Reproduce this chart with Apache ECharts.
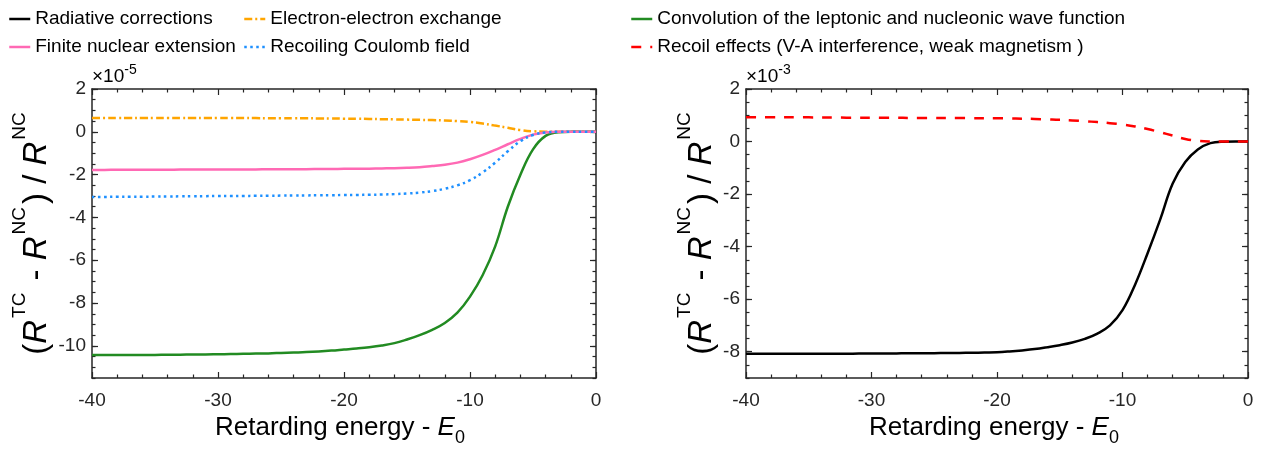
<!DOCTYPE html>
<html><head><meta charset="utf-8">
<script src="https://cdn.jsdelivr.net/npm/echarts@6/dist/echarts.min.js"></script>
<style>html,body{margin:0;padding:0;background:#fff}#c{width:1273px;height:452px}</style>
</head><body><div id="c"></div><script>
// Retarding energy (x axis), -40 ... 0 in steps of 1
const energy = [-40,-39,-38,-37,-36,-35,-34,-33,-32,-31,-30,-29,-28,-27,-26,-25,-24,-23,-22,-21,-20,-19,-18,-17,-16,-15,-14,-13,-12,-11,-10,-9,-8,-7,-6,-5,-4,-3,-2,-1,0];
// Left panel (units of 1e-5)
const electronExchange = [0.65,0.65,0.65,0.65,0.65,0.65,0.65,0.645,0.645,0.645,0.645,0.64,0.64,0.64,0.635,0.635,0.63,0.63,0.625,0.62,0.615,0.61,0.6,0.59,0.58,0.57,0.56,0.55,0.53,0.5,0.46,0.39,0.29,0.19,0.085,0.025,0.006,0,0,0,0];
const finiteNuclear = [-1.78,-1.78,-1.775,-1.775,-1.77,-1.77,-1.77,-1.765,-1.765,-1.76,-1.76,-1.76,-1.755,-1.755,-1.75,-1.75,-1.745,-1.745,-1.74,-1.735,-1.73,-1.725,-1.72,-1.71,-1.7,-1.68,-1.65,-1.6,-1.54,-1.44,-1.28,-1.08,-0.84,-0.58,-0.33,-0.13,-0.03,0,0,0,0];
const recoilCoulomb = [-3.04,-3.04,-3.035,-3.03,-3.03,-3.025,-3.02,-3.015,-3.01,-3.005,-3.0,-3.0,-2.995,-2.99,-2.985,-2.98,-2.975,-2.97,-2.965,-2.96,-2.955,-2.95,-2.94,-2.93,-2.91,-2.88,-2.84,-2.77,-2.66,-2.5,-2.26,-1.9,-1.44,-0.91,-0.44,-0.15,-0.03,0,0,0,0];
const convolution = [-10.43,-10.43,-10.43,-10.42,-10.42,-10.42,-10.41,-10.41,-10.4,-10.4,-10.39,-10.38,-10.37,-10.36,-10.35,-10.33,-10.31,-10.29,-10.26,-10.22,-10.17,-10.12,-10.06,-9.98,-9.87,-9.7,-9.5,-9.25,-8.93,-8.45,-7.7,-6.7,-5.35,-3.5,-2.0,-0.82,-0.19,-0.02,0,0,0];
// Right panel (units of 1e-3)
const radiative = [-8.08,-8.08,-8.08,-8.08,-8.08,-8.08,-8.08,-8.075,-8.075,-8.07,-8.07,-8.07,-8.065,-8.06,-8.06,-8.055,-8.05,-8.045,-8.04,-8.03,-8.02,-7.99,-7.95,-7.9,-7.83,-7.75,-7.65,-7.51,-7.31,-7.0,-6.42,-5.45,-4.25,-2.97,-1.6,-0.78,-0.3,-0.06,-0.005,0,0];
const recoilEffects = [0.92,0.92,0.92,0.92,0.92,0.92,0.915,0.915,0.91,0.91,0.91,0.905,0.905,0.9,0.9,0.9,0.895,0.895,0.89,0.89,0.885,0.88,0.87,0.86,0.845,0.83,0.805,0.775,0.74,0.7,0.65,0.575,0.475,0.355,0.225,0.1,0.025,0.003,0,0,0];
// Tick labels
const xTicks = [-40,-30,-20,-10,0];
const yTicksLeft = [-10,-8,-6,-4,-2,0,2];
const yTicksRight = [-8,-6,-4,-2,0,2];

const names = {
  rad: 'Radiative corrections',
  ee: 'Electron-electron exchange',
  conv: 'Convolution of the leptonic and nucleonic wave function',
  fin: 'Finite nuclear extension',
  coul: 'Recoiling Coulomb field',
  rec: 'Recoil effects (V-A interference, weak magnetism )'
};
const AX = '#262626';
const FONT = 'Liberation Sans, Arial, sans-serif';
const pair = arr => energy.map((x, i) => [x, arr[i]]);

function xAx(grid, top) {
  return {
    type: 'value', gridIndex: grid, position: top ? 'top' : 'bottom',
    min: -40, max: 0, interval: 10,
    axisLine: {show: true, onZero: false, lineStyle: {color: AX, width: 1.5}},
    axisTick: {show: true, inside: true, length: 6, lineStyle: {color: AX, width: 1.2}},
    minorTick: {show: true, splitNumber: 5, length: 3.5, lineStyle: {color: AX, width: 1.2}},
    axisLabel: {show: !top, margin: 13, fontSize: 19, color: AX, fontFamily: FONT,
      customValues: top ? undefined : xTicks},
    splitLine: {show: false}, minorSplitLine: {show: false}
  };
}
function yAxMinor(grid, right, min, max, labels) {
  return {
    type: 'value', gridIndex: grid, position: right ? 'right' : 'left',
    min: min, max: max, interval: 0.5,
    axisLine: {show: true, onZero: false, lineStyle: {color: AX, width: 1.5}},
    axisTick: {show: true, inside: true, length: 3.5, lineStyle: {color: AX, width: 1.2}},
    axisLabel: {show: !!labels, margin: 6, fontSize: 19, color: AX, fontFamily: FONT,
      formatter: v => (Math.abs(v % 2) < 1e-9 ? String(v) : '')},
    splitLine: {show: false}
  };
}
function yAxMajor(grid, right, min, max, ticks) {
  return {
    type: 'value', gridIndex: grid, position: right ? 'right' : 'left',
    min: min, max: max,
    axisLine: {show: false, onZero: false},
    axisTick: {show: true, inside: true, length: 6, customValues: ticks, lineStyle: {color: AX, width: 1.2}},
    axisLabel: {show: false},
    splitLine: {show: false}
  };
}

const xRich = {
  n: {fontSize: 26, fontFamily: FONT, color: AX, lineHeight: 28, verticalAlign: 'middle'},
  i: {fontSize: 26, fontFamily: FONT, fontStyle: 'italic', color: AX, lineHeight: 28, verticalAlign: 'middle'},
  b: {fontSize: 18, fontFamily: FONT, color: AX, lineHeight: 18, padding: [21, 0, 0, 0], verticalAlign: 'middle'}
};
const yRich = {
  n: {fontSize: 33, fontFamily: FONT, color: AX, lineHeight: 35, verticalAlign: 'middle'},
  i: {fontSize: 33, fontFamily: FONT, fontStyle: 'italic', color: AX, lineHeight: 35, verticalAlign: 'middle'},
  s: {fontSize: 19, fontFamily: FONT, color: AX, lineHeight: 20, padding: [0, 3, 34, 2], verticalAlign: 'middle'}
};
const yName = '{n|(}{i|R}{s|TC}{n| - }{i|R}{s|NC}{n|) / }{i|R}{s|NC}';
const xName = '{n|Retarding energy - }{i|E}{b|0}';
const expRich = {
  m: {fontSize: 19, fontFamily: FONT, color: AX, lineHeight: 20},
  e: {fontSize: 14, fontFamily: FONT, color: AX, lineHeight: 14, padding: [0, 0, 14, 0]}
};

const lineBase = {type: 'line', showSymbol: false, symbol: 'none', smooth: 0.4, animation: false};
const legendBase = {top: 9, orient: 'vertical', padding: 0, itemWidth: 21, itemHeight: 12, itemGap: 8,
  itemStyle: {opacity: 0, borderWidth: 0, color: 'rgba(0,0,0,0)'},
  lineStyle: {width: 2.5},
  textStyle: {fontSize: 19, fontFamily: FONT, color: '#000', lineHeight: 20}};

const option = {
  animation: false,
  backgroundColor: '#fff',
  grid: [
    {left: 92, top: 89, width: 504, height: 289},
    {left: 746, top: 89, width: 502, height: 289}
  ],
  legend: [
    Object.assign({}, legendBase, {left: 8, data: [names.rad, names.fin]}),
    Object.assign({}, legendBase, {left: 243, data: [names.ee, names.coul]}),
    Object.assign({}, legendBase, {left: 630, data: [names.conv, names.rec]})
  ],
  xAxis: [xAx(0, false), xAx(0, true), xAx(1, false), xAx(1, true)],
  yAxis: [
    yAxMinor(0, false, -11.5, 2, true), yAxMajor(0, false, -11.5, 2, yTicksLeft),
    yAxMinor(0, true, -11.5, 2, false), yAxMajor(0, true, -11.5, 2, yTicksLeft),
    yAxMinor(1, false, -9, 2, true), yAxMajor(1, false, -9, 2, yTicksRight),
    yAxMinor(1, true, -9, 2, false), yAxMajor(1, true, -9, 2, yTicksRight)
  ],
  graphic: [
    {type: 'text', x: 340, y: 428, style: {text: xName, rich: xRich, align: 'center', verticalAlign: 'middle'}},
    {type: 'text', x: 994, y: 428, style: {text: xName, rich: xRich, align: 'center', verticalAlign: 'middle'}},
    {type: 'text', x: 37, y: 232, rotation: Math.PI / 2, style: {text: yName, rich: yRich, align: 'center', verticalAlign: 'middle'}},
    {type: 'text', x: 702, y: 232, rotation: Math.PI / 2, style: {text: yName, rich: yRich, align: 'center', verticalAlign: 'middle'}},
    {type: 'text', x: 92, y: 77, style: {text: '{m|×10}{e|-5}', rich: expRich, align: 'left', verticalAlign: 'middle'}},
    {type: 'text', x: 746, y: 77, style: {text: '{m|×10}{e|-3}', rich: expRich, align: 'left', verticalAlign: 'middle'}}
  ],
  series: [
    Object.assign({}, lineBase, {name: names.rad, xAxisIndex: 2, yAxisIndex: 4, data: pair(radiative),
      color: '#000000', lineStyle: {color: '#000000', width: 2.5}}),
    Object.assign({}, lineBase, {name: names.ee, xAxisIndex: 0, yAxisIndex: 0, data: pair(electronExchange),
      color: '#FFA500', lineStyle: {color: '#FFA500', width: 2.5, type: [8, 3, 2, 3]}}),
    Object.assign({}, lineBase, {name: names.conv, xAxisIndex: 0, yAxisIndex: 0, data: pair(convolution),
      color: '#228B22', lineStyle: {color: '#228B22', width: 2.5}}),
    Object.assign({}, lineBase, {name: names.fin, xAxisIndex: 0, yAxisIndex: 0, data: pair(finiteNuclear),
      color: '#FF69B4', lineStyle: {color: '#FF69B4', width: 2.5}}),
    Object.assign({}, lineBase, {name: names.coul, xAxisIndex: 0, yAxisIndex: 0, data: pair(recoilCoulomb),
      color: '#1E90FF', lineStyle: {color: '#1E90FF', width: 2.5, type: [2.5, 3.5]}}),
    Object.assign({}, lineBase, {name: names.rec, xAxisIndex: 2, yAxisIndex: 4, data: pair(recoilEffects),
      color: '#FF0000', lineStyle: {color: '#FF0000', width: 2.5, type: [10, 9]}})
  ]
};
const chart = echarts.init(document.getElementById('c'), null, {renderer: 'canvas'});
chart.setOption(option);
</script></body></html>
